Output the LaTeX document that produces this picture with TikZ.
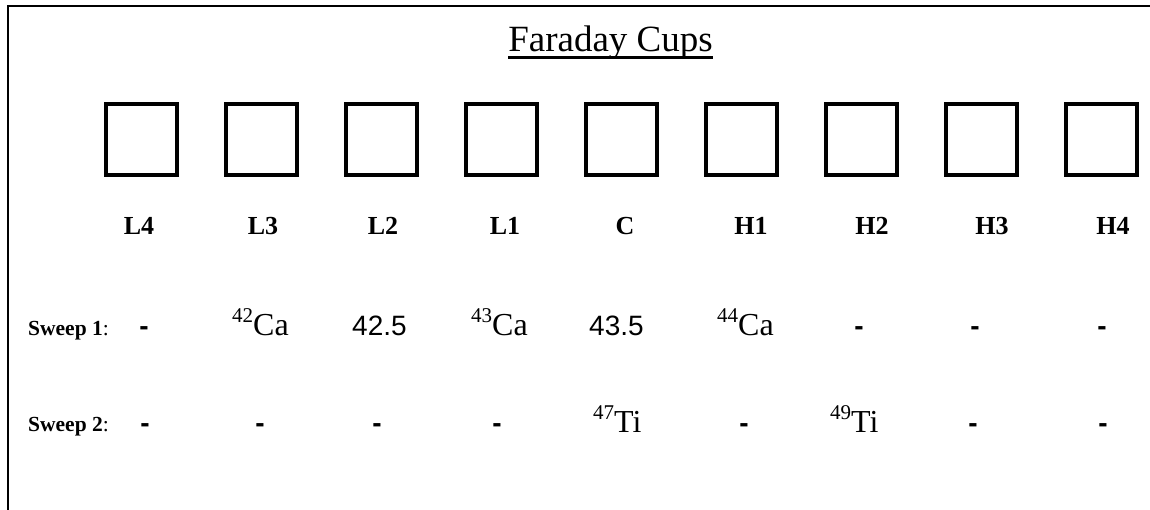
\documentclass[tikz,border=0pt]{standalone}
\usepackage{fontspec}
\setmainfont{Liberation Serif}
\newfontfamily\arialf{Liberation Sans}
\begin{document}
\begin{tikzpicture}[x=1pt,y=-1pt,
  cup/.style={draw,line width=4pt,minimum width=71.5pt,minimum height=71pt,inner sep=0pt},
  cuplabel/.style={anchor=base,inner sep=0pt,font=\fontsize{26}{26}\selectfont\bfseries},
  sweeplabel/.style={anchor=base west,inner sep=0pt,font=\fontsize{21.5}{21.5}\selectfont},
  dashval/.style={anchor=base,inner sep=0pt,font=\fontsize{28}{28}\selectfont\arialf\bfseries},
  numval/.style={anchor=base west,inner sep=0pt,font=\fontsize{28}{28}\selectfont\arialf},
  isoval/.style={anchor=base west,inner sep=0pt,font=\fontsize{32}{32}\selectfont},
  border/.style={line width=2pt}]
\useasboundingbox (0,0) rectangle (1150,510);
\newcommand{\iso}[2]{\raisebox{13pt}{\fontsize{21}{21}\selectfont #1}#2}
% border
\coordinate (bl) at (8,510);
\coordinate (tl) at (8,6);
\coordinate (tr) at (1150,6);
\draw[border] (bl) -- (tl) -- (tr);
% title
\node[anchor=base,inner sep=0pt,font=\fontsize{37}{37}\selectfont] (title) at (610.5,52) {Faraday Cups};
\draw[line width=2.4pt] ([yshift=-5.5pt]title.base west) -- ([yshift=-5.5pt]title.base east);
% cups
\foreach \i in {0,...,8} {
  \node[cup] (cup\i) at ({141.3+120*\i},139.5) {};
}
% cup labels
\node[cuplabel] (lL4) at (139,235) {L4};
\node[cuplabel] (lL3) at (263,235) {L3};
\node[cuplabel] (lL2) at (383,235) {L2};
\node[cuplabel] (lL1) at (505,235) {L1};
\node[cuplabel] (lC)  at (625,235) {C};
\node[cuplabel] (lH1) at (751,235) {H1};
\node[cuplabel] (lH2) at (872,235) {H2};
\node[cuplabel] (lH3) at (992,235) {H3};
\node[cuplabel] (lH4) at (1113,235) {H4};
% sweep 1
\node[sweeplabel] (s1) at (28,335) {\textbf{Sweep 1}:};
\node[dashval] (s1a) at (144,335) {-};
\node[isoval] (s1b) at (232,335) {\iso{42}{Ca}};
\node[numval] (s1c) at (352,335) {42.5};
\node[isoval] (s1d) at (471,335) {\iso{43}{Ca}};
\node[numval] (s1e) at (589,335) {43.5};
\node[isoval] (s1f) at (717,335) {\iso{44}{Ca}};
\node[dashval] (s1g) at (859,335) {-};
\node[dashval] (s1h) at (975,335) {-};
\node[dashval] (s1i) at (1102,335) {-};
% sweep 2
\node[sweeplabel] (s2) at (28,431) {\textbf{Sweep 2}:};
\node[dashval] (s2a) at (145,432) {-};
\node[dashval] (s2b) at (260,432) {-};
\node[dashval] (s2c) at (377,432) {-};
\node[dashval] (s2d) at (497,432) {-};
\node[isoval] (s2e) at (593,432) {\iso{47}{Ti}};
\node[dashval] (s2f) at (744,432) {-};
\node[isoval] (s2g) at (830,432) {\iso{49}{Ti}};
\node[dashval] (s2h) at (973,432) {-};
\node[dashval] (s2i) at (1103,432) {-};
\end{tikzpicture}
\end{document}
